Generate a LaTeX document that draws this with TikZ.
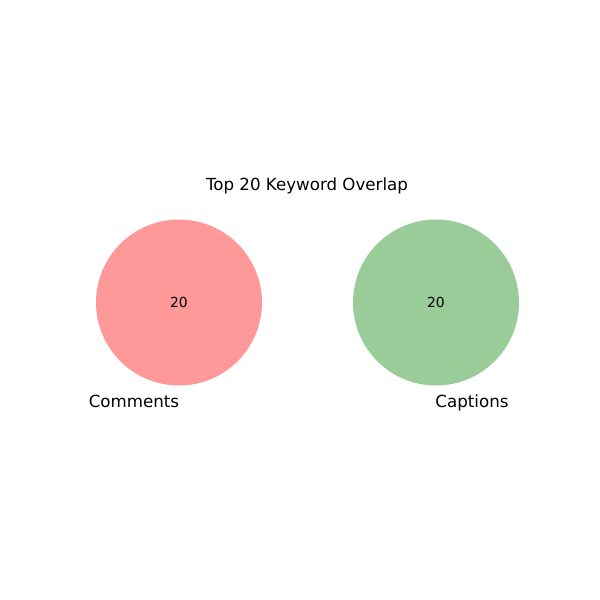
\documentclass[tikz,border=0pt]{standalone}
\usepackage{fontspec}
\setmainfont{DejaVu Sans}
\definecolor{setred}{HTML}{FF9999}
\definecolor{setgreen}{HTML}{99CC99}
\begin{document}
\begin{tikzpicture}[x=0.72pt,y=-0.72pt,
  setcircle/.style={circle,minimum size={166*0.72pt},inner sep=0pt,draw=none},
  countlabel/.style={font=\fontsize{10}{12}\selectfont,inner sep=0pt},
  setlabel/.style={font=\fontsize{12}{14}\selectfont,inner sep=0pt,anchor=base},
  titlelabel/.style={font=\fontsize{12}{14}\selectfont,inner sep=0pt,anchor=base}]
\useasboundingbox (0,0) rectangle (600,600);
\node[setcircle,fill=setred] (A) at (179,302.5) {};
\node[setcircle,fill=setgreen] (B) at (436,302.5) {};
\node[countlabel] (na) at (179,302) {20};
\node[countlabel] (nb) at (436,302) {20};
\node[setlabel] (la) at (134,407.5) {Comments};
\node[setlabel] (lb) at (472,407.5) {Captions};
\node[titlelabel] (t) at (307,190.5) {Top 20 Keyword Overlap};
\end{tikzpicture}
\end{document}
